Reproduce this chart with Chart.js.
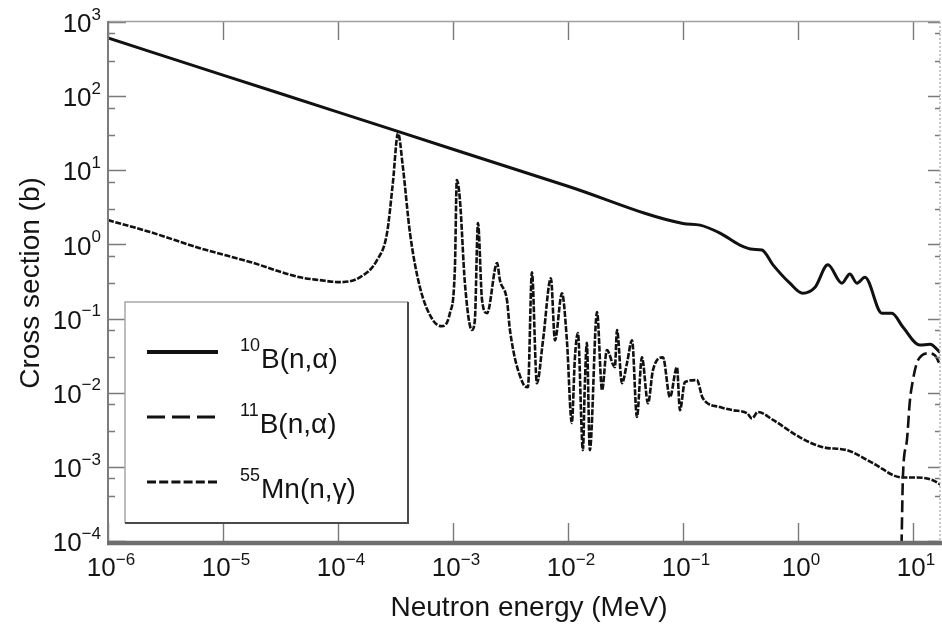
<!DOCTYPE html>
<html>
<head>
<meta charset="utf-8">
<script src="https://cdn.jsdelivr.net/npm/chart.js@4"></script>
<style>
  html, body { margin: 0; padding: 0; background: #fff; }
  #wrap { width: 942px; height: 630px; }
</style>
</head>
<body>
<div id="wrap"><canvas id="xsec" width="942" height="630"></canvas></div>
<script>
// neutron energy in MeV, cross section in barns
const b10Energy = [1e-6, 1e-5, 1e-4, 1e-3, 1e-2, 0.1, 0.141, 0.21, 0.313, 0.406, 0.487, 0.607, 0.851, 1.10, 1.41, 1.82, 2.41, 2.83, 3.26, 3.83, 5.37, 6.56, 8.18, 11.5, 14.1, 17.2];
const b10Sigma  = [608, 192, 61, 19.2, 6.1, 1.92, 1.82, 1.42, 0.98, 0.86, 0.84, 0.53, 0.30, 0.22, 0.265, 0.53, 0.30, 0.40, 0.30, 0.36, 0.118, 0.118, 0.077, 0.044, 0.045, 0.035];

const b11Energy = [7.9, 8.0, 8.18, 8.87, 9.42, 10.0, 10.8, 12.0, 13.5, 15.5, 17.2];
const b11Sigma  = [5e-5, 1.27e-4, 7.2e-4, 2.29e-3, 7.9e-3, 0.0148, 0.025, 0.032, 0.034, 0.032, 0.024];

const mnEnergy = [1e-6, 2.32e-6, 6.3e-6, 1.72e-5, 4.68e-5, 6.96e-5, 1.04e-4, 1.55e-4, 2.18e-4, 2.67e-4,
  3.0e-4, 3.33e-4, 3.67e-4, 4.23e-4, 5.16e-4, 6.7e-4, 8.0e-4, 9.4e-4, 1.04e-3, 1.08e-3,
  1.15e-3, 1.27e-3, 1.46e-3, 1.55e-3, 1.65e-3, 1.79e-3, 1.98e-3, 2.42e-3, 2.56e-3, 2.95e-3,
  3.13e-3, 4.06e-3, 4.49e-3, 4.86e-3, 5.37e-3, 6.07e-3, 7.11e-3, 7.71e-3, 8.87e-3, 9.79e-3,
  1.08e-2, 1.15e-2, 1.22e-2, 1.35e-2, 1.40e-2, 1.46e-2, 1.55e-2, 1.79e-2, 1.98e-2, 2.18e-2, 2.56e-2, 2.67e-2,
  2.95e-2, 3.26e-2, 3.61e-2, 3.98e-2, 4.40e-2, 4.97e-2, 5.48e-2, 6.70e-2, 7.71e-2, 8.87e-2,
  9.42e-2, 0.104, 0.132, 0.149, 0.210, 0.272, 0.361, 0.398, 0.449, 0.607,
  1.04, 1.65, 2.67, 4.49, 8.02, 10.8, 14.9, 17.9];
const mnSigma = [2.13, 1.47, 0.89, 0.58, 0.36, 0.33, 0.31, 0.36, 0.61, 1.42,
  6.7, 31.8, 11, 1.42, 0.265, 0.095, 0.079, 0.118, 0.49, 7.4,
  3.96, 0.30, 0.070, 0.095, 1.94, 0.177, 0.118, 0.56, 0.33, 0.177,
  0.070, 0.0134, 0.0119, 0.42, 0.0134, 0.051, 0.35, 0.051, 0.22, 0.051,
  0.0039, 0.030, 0.064, 0.00168, 0.012, 0.047, 0.00168, 0.122, 0.0108, 0.0375, 0.0221, 0.070,
  0.0134, 0.025, 0.051, 0.0047, 0.030, 0.0072, 0.020, 0.030, 0.0087, 0.0221,
  0.0058, 0.0139, 0.0148, 0.0084, 0.0064, 0.0058, 0.0053, 0.0045, 0.0055, 0.0043,
  0.0025, 0.00184, 0.00168, 0.00112, 0.00072, 0.00072, 0.00066, 0.00056];

// decade exponents that get a "10^n" label
const xDecades = [-6, -5, -4, -3, -2, -1, 0, 1];
const yDecades = [-4, -3, -2, -1, 0, 1, 2, 3];

const legendMass = ['10', '11', '55'];
const legendReaction = ['B(n,α)', 'B(n,α)', 'Mn(n,γ)'];
const legendDash = [[], [18, 7], [9, 3.2]];
const legendWidth = [4, 3, 3];

const FONT = '"Liberation Sans", Arial, Helvetica, sans-serif';
const INK = '#141414';

function pts(xs, ys) {
  return xs.map((v, i) => ({ x: v, y: ys[i] }));
}

function expText(e) {
  return e < 0 ? '\u2212' + Math.abs(e) : String(e);
}

// inward ticks, frame, labels, titles and the boxed legend
const frame = {
  id: 'frame',
  afterDatasetsDraw(chart) {
    const ctx = chart.ctx;
    const a = chart.chartArea;
    const xs = chart.scales.x, ys = chart.scales.y;
    ctx.save();

    const tickInfo = v => {
      const p = Math.floor(Math.log10(v) + 1e-9);
      const m = v / Math.pow(10, p);
      const r = Math.round(m);
      return { ok: Math.abs(m - r) < 1e-6, major: r === 1 };
    };

    ctx.strokeStyle = '#7a7a7a';
    ctx.lineWidth = 1.4;
    xs.ticks.forEach(t => {
      const info = tickInfo(t.value);
      if (!info.ok) return;
      const px = Math.round(xs.getPixelForValue(t.value)) + 0.5;
      const len = info.major ? 18 : 7;
      ctx.beginPath();
      ctx.moveTo(px, a.bottom); ctx.lineTo(px, a.bottom - len);
      ctx.moveTo(px, a.top); ctx.lineTo(px, a.top + len);
      ctx.stroke();
    });
    ys.ticks.forEach(t => {
      const info = tickInfo(t.value);
      if (!info.ok) return;
      const py = Math.round(ys.getPixelForValue(t.value)) + 0.5;
      const len = info.major ? 18 : 7;
      ctx.beginPath();
      ctx.moveTo(a.left, py); ctx.lineTo(a.left + len, py);
      ctx.moveTo(a.right, py); ctx.lineTo(a.right - (info.major ? 12 : 5), py);
      ctx.stroke();
    });

    // frame lines
    ctx.strokeStyle = '#a0a0a0';
    ctx.lineWidth = 1.5;
    ctx.beginPath(); ctx.moveTo(a.left, a.top - 0.5); ctx.lineTo(a.right, a.top - 0.5); ctx.stroke();
    ctx.setLineDash([2, 2]);
    ctx.strokeStyle = '#b8b8b8';
    ctx.beginPath(); ctx.moveTo(a.right, a.top); ctx.lineTo(a.right, a.bottom); ctx.stroke();
    ctx.setLineDash([]);
    ctx.strokeStyle = '#7c7c7c';
    ctx.lineWidth = 2;
    ctx.beginPath(); ctx.moveTo(a.left, a.top - 1); ctx.lineTo(a.left, a.bottom + 2); ctx.stroke();
    ctx.strokeStyle = '#6e6e6e';
    ctx.lineWidth = 4.5;
    ctx.beginPath(); ctx.moveTo(a.left - 1, a.bottom + 2); ctx.lineTo(a.right + 2, a.bottom + 2); ctx.stroke();

    // tick labels
    ctx.fillStyle = INK;
    ctx.textBaseline = 'middle';
    const baseFont = '26px ' + FONT, supFont = '17px ' + FONT;
    xDecades.forEach(e => {
      const px = xs.getPixelForValue(Math.pow(10, e));
      const ex = expText(e);
      ctx.font = baseFont; const wb = ctx.measureText('10').width;
      ctx.font = supFont; const we = ctx.measureText(ex).width;
      const x0 = px + 3 - (wb + we) / 2;
      ctx.textAlign = 'left';
      ctx.font = baseFont; ctx.fillText('10', x0, a.bottom + 28);
      ctx.font = supFont; ctx.fillText(ex, x0 + wb, a.bottom + 19);
    });
    yDecades.forEach(e => {
      const py = ys.getPixelForValue(Math.pow(10, e));
      const ex = expText(e);
      ctx.textAlign = 'right';
      ctx.font = supFont; const we = ctx.measureText(ex).width;
      ctx.fillText(ex, a.left - 7, py - 7);
      ctx.font = baseFont; ctx.fillText('10', a.left - 7 - we, py + 3);
    });

    // axis titles
    ctx.font = '28px ' + FONT;
    ctx.textAlign = 'center';
    ctx.fillText('Neutron energy (MeV)', 529, 608);
    ctx.save();
    ctx.translate(31, 283);
    ctx.rotate(-Math.PI / 2);
    ctx.fillText('Cross section (b)', 0, 0);
    ctx.restore();

    // legend box
    const L = 125, T = 302, R = 408, B = 523;
    ctx.fillStyle = '#fff';
    ctx.fillRect(L, T, R - L, B - T);
    ctx.strokeStyle = '#a8a8a8';
    ctx.lineWidth = 1.5;
    ctx.beginPath(); ctx.moveTo(L, B); ctx.lineTo(L, T); ctx.lineTo(R, T); ctx.stroke();
    ctx.strokeStyle = '#4a4a4a';
    ctx.lineWidth = 2;
    ctx.beginPath(); ctx.moveTo(R, T); ctx.lineTo(R, B); ctx.lineTo(L, B); ctx.stroke();

    legendMass.forEach((m, i) => {
      const ly = T + 50 + 65 * i;
      ctx.strokeStyle = '#111';
      ctx.lineWidth = legendWidth[i];
      ctx.setLineDash(legendDash[i]);
      ctx.beginPath(); ctx.moveTo(147, ly); ctx.lineTo(218, ly); ctx.stroke();
      ctx.setLineDash([]);
      ctx.fillStyle = INK;
      ctx.textAlign = 'left';
      ctx.textBaseline = 'alphabetic';
      ctx.font = '18px ' + FONT;
      ctx.fillText(m, 240, ly - 1);
      const wm = ctx.measureText(m).width;
      ctx.font = '28px ' + FONT;
      ctx.fillText(legendReaction[i], 240 + wm + 1, ly + 16);
    });
    ctx.restore();
  }
};

new Chart(document.getElementById('xsec'), {
  type: 'line',
  data: {
    datasets: [
      {
        label: '10B(n,α)',
        data: pts(b10Energy, b10Sigma),
        borderColor: '#111',
        borderWidth: 3,
        pointRadius: 0,
        cubicInterpolationMode: 'monotone',
        fill: false
      },
      {
        label: '11B(n,α)',
        data: pts(b11Energy, b11Sigma),
        borderColor: '#111',
        borderWidth: 2.6,
        borderDash: [12, 5],
        pointRadius: 0,
        cubicInterpolationMode: 'monotone',
        fill: false
      },
      {
        label: '55Mn(n,γ)',
        data: pts(mnEnergy, mnSigma),
        borderColor: '#111',
        borderWidth: 2.6,
        borderDash: [6, 1.6],
        pointRadius: 0,
        cubicInterpolationMode: 'monotone',
        fill: false
      }
    ]
  },
  options: {
    responsive: false,
    animation: false,
    layout: { padding: { left: 108, top: 22, right: 2, bottom: 89 } },
    plugins: {
      legend: { display: false },
      tooltip: { enabled: false }
    },
    scales: {
      x: {
        type: 'logarithmic',
        min: 1e-6,
        max: 17.2,
        display: false
      },
      y: {
        type: 'logarithmic',
        min: 1e-4,
        max: 1e3,
        display: false
      }
    }
  },
  plugins: [frame]
});
</script>
</body>
</html>
